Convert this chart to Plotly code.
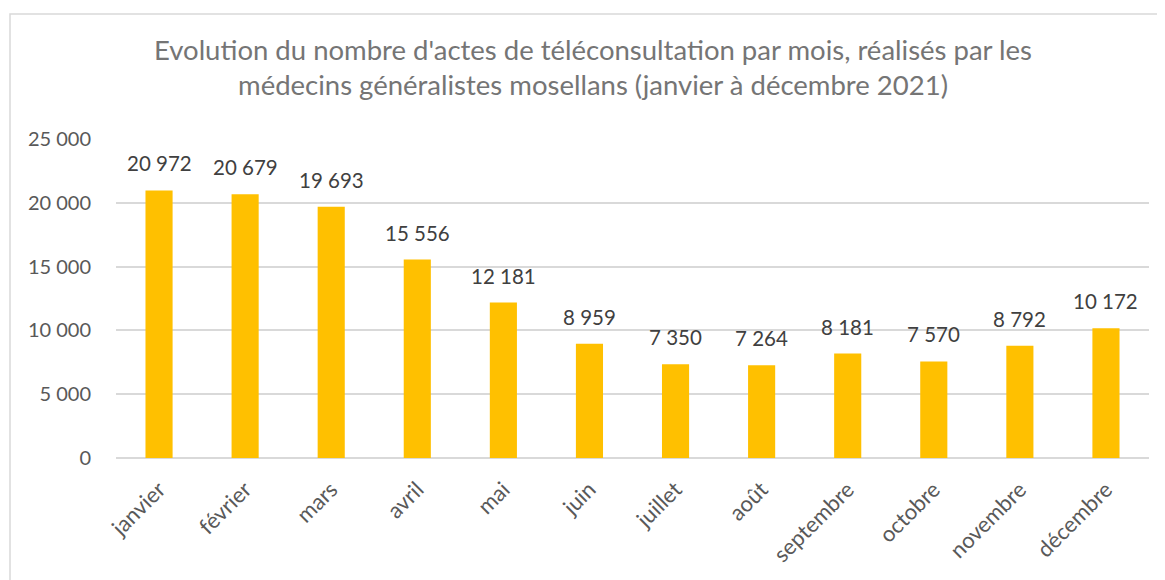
import plotly.graph_objects as go

months = ["janvier", "février", "mars", "avril", "mai", "juin", "juillet",
          "août", "septembre", "octobre", "novembre", "décembre"]
values = [20972, 20679, 19693, 15556, 12181, 8959, 7350, 7264, 8181, 7570, 8792, 10172]
y_ticks = [0, 5000, 10000, 15000, 20000, 25000]
y_tick_labels = ["0", "5 000", "10 000", "15 000", "20 000", "25 000"]
title_text = ("Evolution du nombre d'actes de téléconsultation par mois, réalisés par les<br>"
              "médecins généralistes mosellans (janvier à décembre 2021)")

def fmt(v):
    return f"{v:,}".replace(",", " ")

FONT = "Lato, Carlito, Calibri, sans-serif"

# the page body adds an 8px offset; margins compensate for it
OFF = 8
L, R, T, B = 116 - OFF, 1165 - 1149 + OFF, 139 - OFF, 580 - 458 + OFF
PW, PH = 1165 - L - R, 580 - T - B

fig = go.Figure(go.Bar(
    x=months, y=values,
    marker=dict(color="#FFC000", line=dict(width=0)),
    hoverinfo="x+y",
))

for m, v in zip(months, values):
    fig.add_annotation(x=m, y=v, xref="x", yref="y", text=fmt(v), showarrow=False,
                       yanchor="bottom", yshift=13,
                       font=dict(family=FONT, size=20.5, color="#404040"))

fig.update_layout(
    width=1165, height=580,
    margin=dict(l=L, r=R, t=T, b=B, autoexpand=False),
    paper_bgcolor="white", plot_bgcolor="white",
    bargap=0.685,
    showlegend=False,
    font=dict(family=FONT),
    title=dict(text=title_text, x=(593 - OFF) / 1165, xanchor="center", y=0.911, yanchor="top",
               font=dict(family=FONT, size=27.5, color="#757575")),
    xaxis=dict(tickangle=-45, tickfont=dict(family=FONT, size=22, color="#595959"),
               showgrid=False, showline=False, ticks="outside", ticklen=9,
               tickcolor="rgba(0,0,0,0)", automargin=False),
    yaxis=dict(range=[0, 25000], tickvals=y_ticks, ticktext=y_tick_labels,
               tickfont=dict(family=FONT, size=20, color="#595959"),
               gridcolor="#D9D9D9", gridwidth=1.5, zeroline=True, zerolinecolor="#D9D9D9",
               zerolinewidth=1.5, showline=False, ticks="", ticklabelstandoff=24,
               automargin=False),
    shapes=[dict(type="rect", xref="paper", yref="paper",
                 x0=(10 - OFF - L) / PW, x1=1.2, y0=-0.6, y1=1 + (T - (14 - OFF)) / PH,
                 line=dict(color="#D9D9D9", width=1.5), fillcolor="rgba(0,0,0,0)",
                 layer="below")],
)

fig.write_html("out.html")
